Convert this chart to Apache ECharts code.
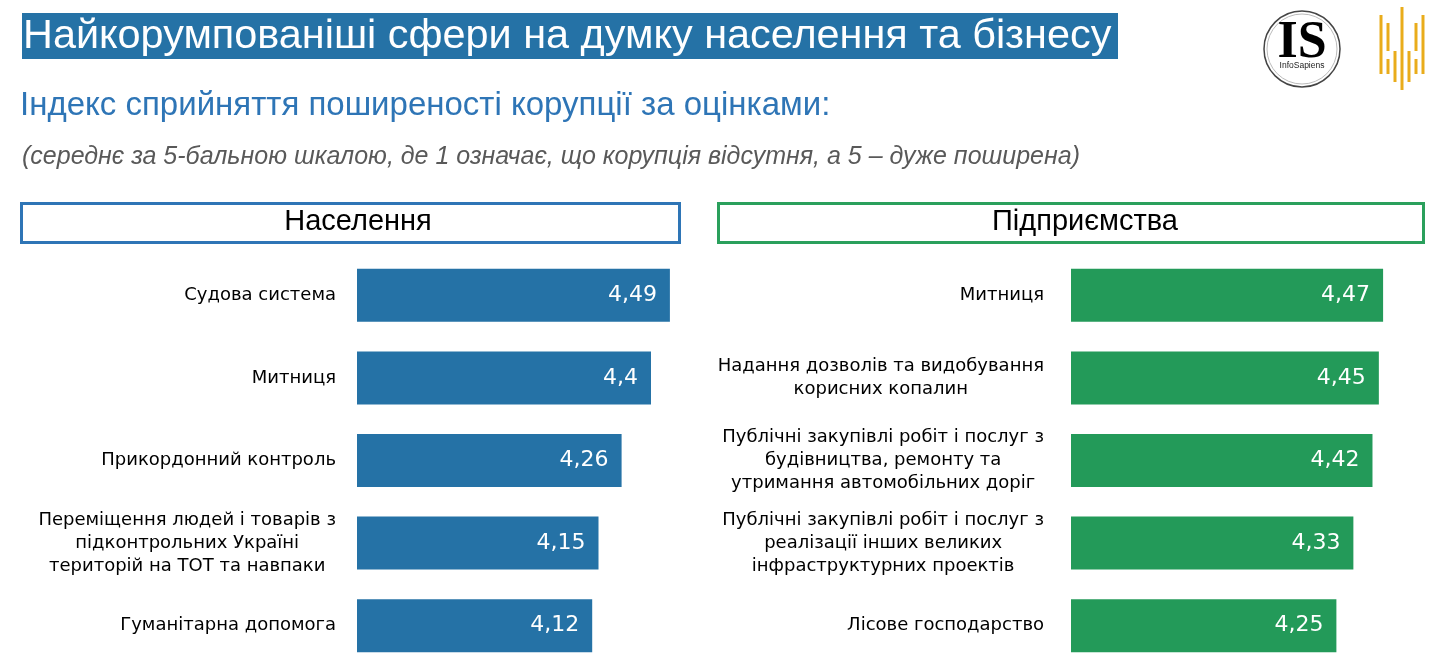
<!DOCTYPE html>
<html lang="uk">
<head>
<meta charset="utf-8">
<title>Найкорумпованіші сфери</title>
<script src="https://cdn.jsdelivr.net/npm/echarts@6/dist/echarts.min.js"></script>
<style>
  html, body { margin: 0; padding: 0; background: #fff; }
  #main { width: 1434px; height: 671px; }
</style>
</head>
<body>
<div id="main"></div>
<script>
// Населення
var popCategories = [
  'Судова система',
  'Митниця',
  'Прикордонний контроль',
  'Переміщення людей і товарів з\nпідконтрольних Україні\nтериторій на ТОТ та навпаки',
  'Гуманітарна допомога'
];
var popValues = [4.49, 4.4, 4.26, 4.15, 4.12];

// Підприємства
var bizCategories = [
  'Митниця',
  'Надання дозволів та видобування\nкорисних копалин',
  'Публічні закупівлі робіт і послуг з\nбудівництва, ремонту та\nутримання автомобільних доріг',
  'Публічні закупівлі робіт і послуг з\nреалізації інших великих\nінфраструктурних проектів',
  'Лісове господарство'
];
var bizValues = [4.47, 4.45, 4.42, 4.33, 4.25];

var BLUE = '#2572A6';
var GREEN = '#239A59';
var LABEL_FONT = '"DejaVu Sans", Verdana, sans-serif';
var HEAD_FONT = '"Liberation Sans", Arial, sans-serif';

// кожен рядок підпису центрується в межах блоку
function catLabel(s) {
  return s.split('\n').map(function (l) { return '{c|' + l + '}'; }).join('\n');
}
function valLabel(p) {
  return String(p.value).replace('.', ',');
}

function yAxisOf(idx, cats, margin) {
  return {
    type: 'category', gridIndex: idx, data: cats, inverse: true,
    axisLine: { show: false }, axisTick: { show: false },
    axisLabel: {
      margin: margin, formatter: catLabel,
      rich: { c: { fontFamily: LABEL_FONT, fontSize: 18, color: '#000', lineHeight: 23, align: 'center' } }
    }
  };
}
function xAxisOf(idx, max) {
  return { type: 'value', gridIndex: idx, min: 3, max: max, show: false };
}
function seriesOf(idx, vals, color) {
  return {
    type: 'bar', xAxisIndex: idx, yAxisIndex: idx, data: vals, barWidth: 53,
    itemStyle: { color: color },
    label: {
      show: true, position: 'insideRight', distance: 13, formatter: valLabel,
      color: '#fff', fontFamily: LABEL_FONT, fontSize: 22
    },
    silent: true
  };
}

// логотип з вертикальних ліній
var goldLines = [];
[[1381, 15, 74], [1388, 23, 51], [1388, 59, 74], [1395, 51, 82], [1402, 7, 90],
 [1409, 51, 82], [1416, 23, 51], [1416, 59, 74], [1423, 15, 74]].forEach(function (g) {
  goldLines.push({ type: 'rect', shape: { x: g[0] - 1.5, y: g[1], width: 3, height: g[2] - g[1] }, style: { fill: '#E9AC1B' } });
});

var myChart = echarts.init(document.getElementById('main'));

var option = {
  animation: false,
  grid: [
    { left: 357, top: 254, width: 420, height: 413 },
    { left: 1071, top: 254, width: 339.7, height: 413 }
  ],
  xAxis: [xAxisOf(0, 5), xAxisOf(1, 4.6)],
  yAxis: [yAxisOf(0, popCategories, 21), yAxisOf(1, bizCategories, 27)],
  series: [seriesOf(0, popValues, BLUE), seriesOf(1, bizValues, GREEN)],
  graphic: [
    { type: 'rect', shape: { x: 22, y: 13, width: 1096, height: 46 }, style: { fill: BLUE } },
    { type: 'text', x: 23, y: 37, style: { text: 'Найкорумпованіші сфери на думку населення та бізнесу', fill: '#fff', font: '41.4px ' + HEAD_FONT, textVerticalAlign: 'middle' } },
    { type: 'text', x: 20, y: 106, style: { text: 'Індекс сприйняття поширеності корупції за оцінками:', fill: '#2E75B6', font: '33px ' + HEAD_FONT, textVerticalAlign: 'middle' } },
    { type: 'text', x: 22, y: 157, style: { text: '(середнє за 5-бальною шкалою, де 1 означає, що корупція відсутня, а 5 – дуже поширена)', fill: '#595959', font: 'italic 25px ' + HEAD_FONT, textVerticalAlign: 'middle' } },

    { type: 'rect', shape: { x: 21.5, y: 203.5, width: 658, height: 39 }, style: { fill: '#fff', stroke: '#2E75B6', lineWidth: 3 } },
    { type: 'text', x: 358, y: 222, style: { text: 'Населення', fill: '#000', font: '29px ' + HEAD_FONT, textAlign: 'center', textVerticalAlign: 'middle' } },
    { type: 'rect', shape: { x: 718.5, y: 203.5, width: 705, height: 39 }, style: { fill: '#fff', stroke: '#2AA05C', lineWidth: 3 } },
    { type: 'text', x: 1085, y: 222, style: { text: 'Підприємства', fill: '#000', font: '29px ' + HEAD_FONT, textAlign: 'center', textVerticalAlign: 'middle' } },

    { type: 'circle', shape: { cx: 1302, cy: 49, r: 38 }, style: { fill: '#fff', stroke: '#444', lineWidth: 1.5 } },
    { type: 'circle', shape: { cx: 1302, cy: 49, r: 35 }, style: { fill: 'none', stroke: '#bbb', lineWidth: 1 } },
    { type: 'text', x: 1302, y: 44, style: { text: 'IS', fill: '#000', font: 'bold 52px "Liberation Serif", "Times New Roman", serif', textAlign: 'center', textVerticalAlign: 'middle' } },
    { type: 'text', x: 1302, y: 66, style: { text: 'InfoSapiens', fill: '#222', font: '8.5px ' + HEAD_FONT, textAlign: 'center', textVerticalAlign: 'middle' } }
  ].concat(goldLines)
};

myChart.setOption(option);
</script>
</body>
</html>
